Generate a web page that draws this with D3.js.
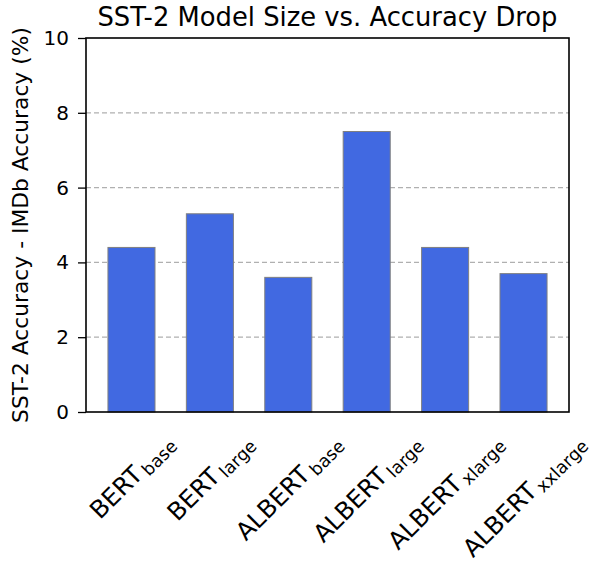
<!DOCTYPE html>
<html>
<head>
<meta charset="utf-8">
<script src="https://cdn.jsdelivr.net/npm/d3@7"></script>
<style>
  body { margin: 0; background: #fff; }
  text { font-family: "DejaVu Sans", sans-serif; fill: #000; }
</style>
</head>
<body>
<svg width="598" height="562"></svg>
<script>
const MODELS = ["BERT", "BERT", "ALBERT", "ALBERT", "ALBERT", "ALBERT"];
const SIZES = ["base", "large", "base", "large", "xlarge", "xxlarge"];
const DROPS = [4.4, 5.3, 3.6, 7.5, 4.4, 3.7];
const Y_TICKS = [0, 2, 4, 6, 8, 10];

var svg = d3.select("svg"),
    pLeft = 86, pRight = 569, pTop = 38, pBottom = 412;

// matplotlib style x limits: bars of width 0.6 plus 5% margins
var xScale = d3.scaleLinear().domain([-0.58, 5.58]).range([pLeft, pRight]),
    yScale = d3.scaleLinear().domain([0, 10]).range([pBottom, pTop]);
var barW = xScale(0.6) - xScale(0);

// dashed grid, under the bars
svg.append("g").selectAll("line")
   .data(Y_TICKS.filter(function(d) { return d > 0 && d < 10; }))
   .enter().append("line")
   .attr("x1", pLeft).attr("x2", pRight)
   .attr("y1", function(d) { return yScale(d); })
   .attr("y2", function(d) { return yScale(d); })
   .attr("stroke", "#b0b0b0")
   .attr("stroke-width", 1.2)
   .attr("stroke-dasharray", "5,3");

svg.append("g").selectAll("rect")
   .data(DROPS)
   .enter().append("rect")
   .attr("x", function(d, i) { return xScale(i) - barW / 2; })
   .attr("y", function(d) { return yScale(d); })
   .attr("width", barW)
   .attr("height", function(d) { return pBottom - yScale(d); })
   .attr("fill", "#4169e1")
   .attr("stroke", "#808080")
   .attr("stroke-width", 1);

// y axis
var yAxis = svg.append("g")
   .attr("transform", "translate(" + pLeft + ",0)")
   .call(d3.axisLeft(yScale).tickValues(Y_TICKS).tickSize(8).tickPadding(9));
yAxis.select(".domain").remove();
yAxis.selectAll(".tick line").attr("stroke", "#000").attr("stroke-width", 1.3);
yAxis.selectAll(".tick text").attr("font-size", "20px").attr("font-family", "DejaVu Sans");

// frame
svg.append("rect")
   .attr("x", pLeft).attr("y", pTop)
   .attr("width", pRight - pLeft).attr("height", pBottom - pTop)
   .attr("fill", "none").attr("stroke", "#000").attr("stroke-width", 1.6);

// x tick labels with subscripts, rotated 45deg, bbox centred under tick
var xl = svg.append("g");
MODELS.forEach(function(m, i) {
    var t = xl.append("text")
       .attr("font-size", "24.5px")
       .attr("text-anchor", "middle")
       .attr("dominant-baseline", "central");
    t.append("tspan").text(m);
    t.append("tspan").attr("font-size", "17.5px").attr("dx", "3").attr("dy", "7").text(SIZES[i]);
    var w = t.node().getComputedTextLength() + 3, h = 26;
    var cy = pBottom + 17 + (w + h) / (2 * Math.SQRT2);
    t.attr("transform", "translate(" + xScale(i) + "," + cy + ") rotate(-45)");
});

svg.append("text")
   .attr("transform", "translate(20," + ((pTop + pBottom) / 2) + ") rotate(-90)")
   .attr("text-anchor", "middle")
   .attr("dominant-baseline", "central")
   .attr("font-size", "21.8px")
   .text("SST-2 Accuracy - IMDb Accuracy (%)");

svg.append("text")
   .attr("x", (pLeft + pRight) / 2)
   .attr("y", 26)
   .attr("text-anchor", "middle")
   .attr("font-size", "25.8px")
   .text("SST-2 Model Size vs. Accuracy Drop");
</script>
</body>
</html>
